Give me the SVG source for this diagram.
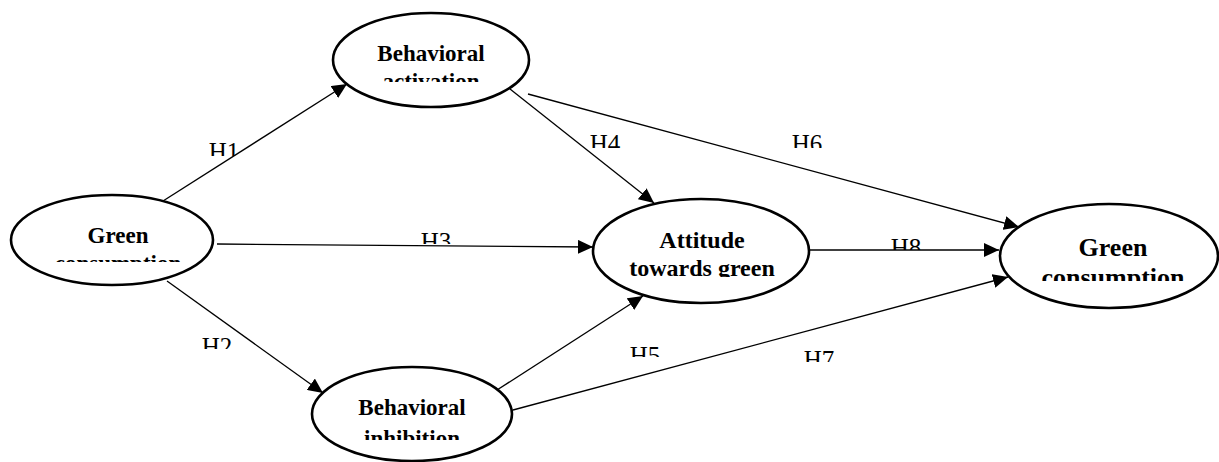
<svg xmlns="http://www.w3.org/2000/svg" width="1219" height="462" viewBox="0 0 1219 462">
<style>
.node ellipse{fill:#fff;stroke:#000;stroke-width:2.6}
.nt{font-family:"Liberation Serif","Times New Roman",serif;font-weight:bold;text-anchor:middle;fill:#000}
.lbl{font-family:"Liberation Serif","Times New Roman",serif;font-size:25px;text-anchor:middle;fill:#000}
.edge{stroke:#000;stroke-width:1.3;fill:none;marker-end:url(#arr)}
</style>
<defs>
<marker id="arr" markerUnits="userSpaceOnUse" markerWidth="16" markerHeight="14" refX="15" refY="7" orient="auto">
<path d="M0,0 L15,7 L0,14 z" fill="#000"/>
</marker>
<clipPath id="cA"><rect x="300" y="0" width="260" height="82"/></clipPath>
<clipPath id="cG1"><rect x="0" y="180" width="240" height="82"/></clipPath>
<clipPath id="cT"><rect x="580" y="180" width="260" height="97"/></clipPath>
<clipPath id="cG2"><rect x="990" y="180" width="229" height="101"/></clipPath>
<clipPath id="cI"><rect x="300" y="360" width="260" height="80"/></clipPath>
<clipPath id="l1"><rect x="180" y="120" width="100" height="36"/></clipPath>
<clipPath id="l2"><rect x="180" y="320" width="100" height="29"/></clipPath>
<clipPath id="l3"><rect x="380" y="210" width="100" height="34"/></clipPath>
<clipPath id="l4"><rect x="560" y="110" width="100" height="38"/></clipPath>
<clipPath id="l5"><rect x="600" y="320" width="100" height="37"/></clipPath>
<clipPath id="l6"><rect x="760" y="110" width="100" height="38"/></clipPath>
<clipPath id="l7"><rect x="770" y="320" width="100" height="42"/></clipPath>
<clipPath id="l8"><rect x="860" y="210" width="100" height="40"/></clipPath>
</defs>
<rect width="1219" height="462" fill="#fff"/>
<g id="connectors">
<line class="edge" x1="163" y1="201" x2="347" y2="84"/>
<line class="edge" x1="167" y1="281" x2="323" y2="393"/>
<line class="edge" x1="217" y1="244" x2="593" y2="247"/>
<line class="edge" x1="510" y1="89" x2="654" y2="203"/>
<line class="edge" x1="497" y1="390" x2="643" y2="296"/>
<line class="edge" x1="528" y1="94" x2="1019" y2="227"/>
<line class="edge" x1="513" y1="410" x2="1008" y2="277"/>
<line class="edge" x1="808" y1="250" x2="999" y2="250"/>
</g>
<g id="labels">
<text class="lbl" x="224" y="159.5" clip-path="url(#l1)">H1</text>
<text class="lbl" x="217" y="354.5" clip-path="url(#l2)">H2</text>
<text class="lbl" x="436" y="249.5" clip-path="url(#l3)">H3</text>
<text class="lbl" x="605" y="151.5" clip-path="url(#l4)">H4</text>
<text class="lbl" x="645" y="363.5" clip-path="url(#l5)">H5</text>
<text class="lbl" x="807" y="151.5" clip-path="url(#l6)">H6</text>
<text class="lbl" x="819" y="367.5" clip-path="url(#l7)">H7</text>
<text class="lbl" x="906" y="255.5" clip-path="url(#l8)">H8</text>
</g>
<g id="node-activation" class="node">
<ellipse cx="431" cy="60" rx="98" ry="47"/>
<g clip-path="url(#cA)">
<text class="nt" x="431" y="61" font-size="23">Behavioral</text>
<text class="nt" x="431" y="89" font-size="23">activation</text>
</g>
</g>
<g id="node-green-left" class="node">
<ellipse cx="112" cy="240" rx="101" ry="45"/>
<g clip-path="url(#cG1)">
<text class="nt" x="118" y="243" font-size="23">Green</text>
<text class="nt" x="118" y="271" font-size="23">consumption</text>
</g>
</g>
<g id="node-attitude" class="node">
<ellipse cx="701" cy="251" rx="108" ry="52"/>
<g clip-path="url(#cT)">
<text class="nt" x="702" y="248" font-size="24">Attitude</text>
<text class="nt" x="702" y="276" font-size="24">towards green</text>
</g>
</g>
<g id="node-green-right" class="node">
<ellipse cx="1109" cy="256" rx="109" ry="52"/>
<g clip-path="url(#cG2)">
<text class="nt" x="1113" y="256" font-size="26">Green</text>
<text class="nt" x="1113" y="286" font-size="26">consumption</text>
</g>
</g>
<g id="node-inhibition" class="node">
<ellipse cx="412" cy="414" rx="100" ry="47"/>
<g clip-path="url(#cI)">
<text class="nt" x="412" y="415" font-size="23">Behavioral</text>
<text class="nt" x="412" y="446" font-size="23">inhibition</text>
</g>
</g>
</svg>
